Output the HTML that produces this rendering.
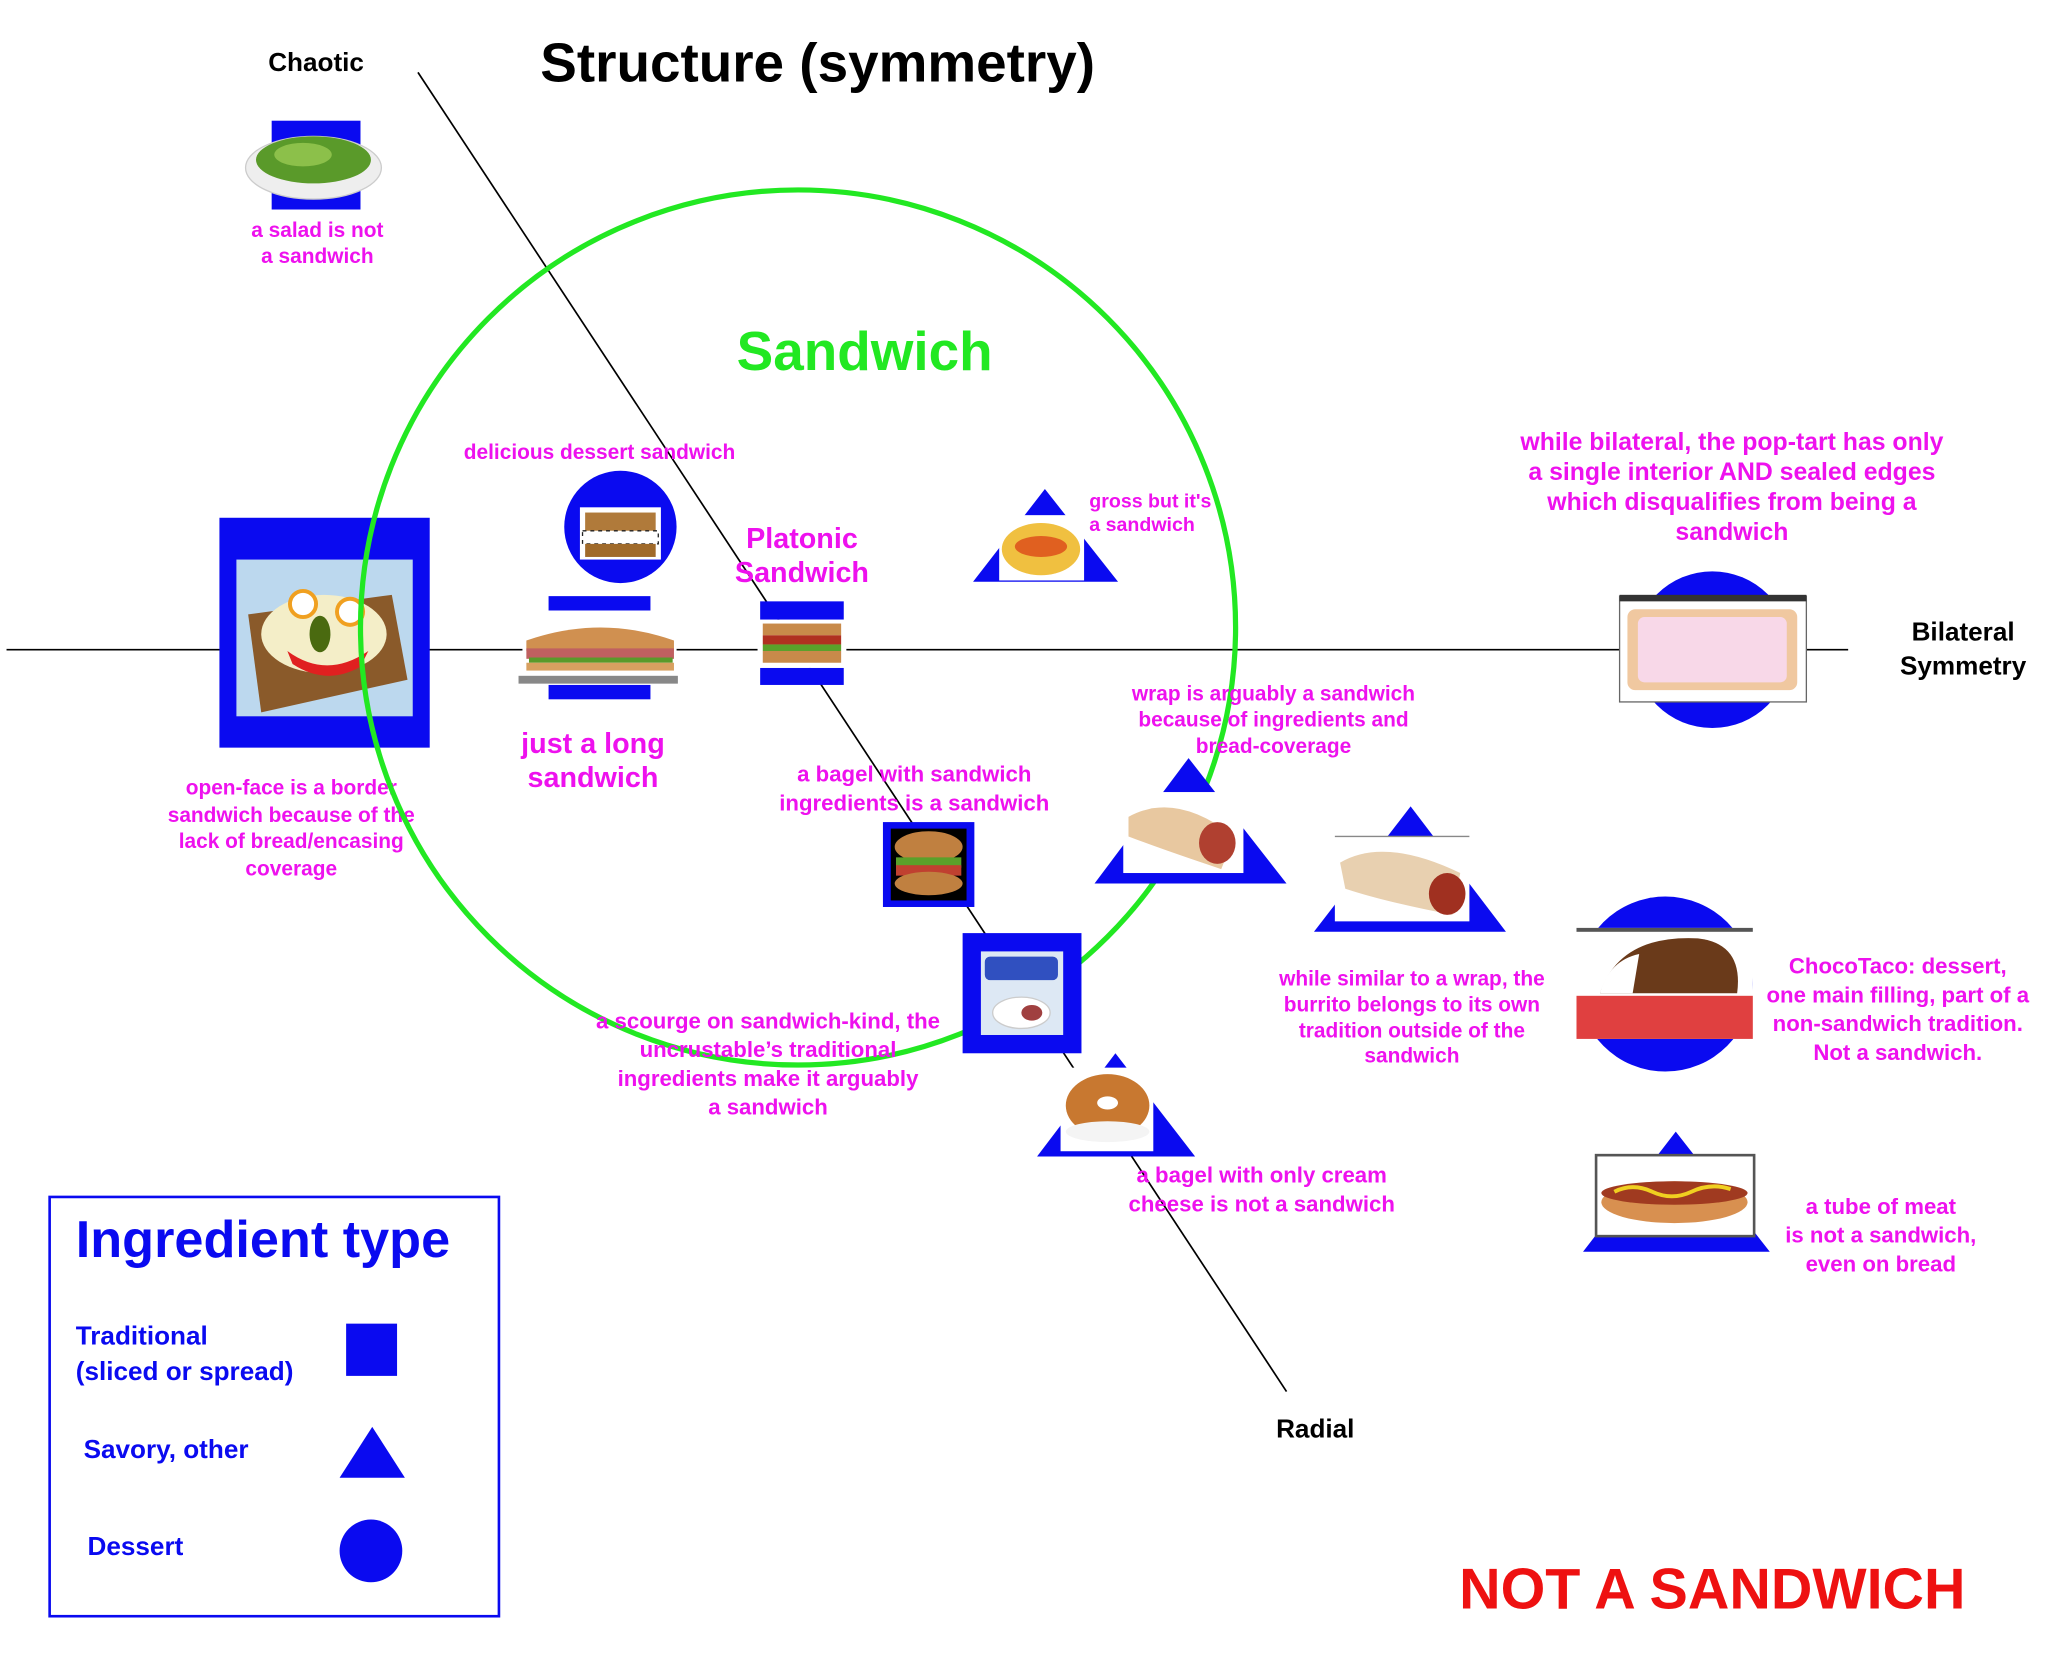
<!DOCTYPE html>
<html><head><meta charset="utf-8"><style>
html,body{margin:0;padding:0;background:#fff;}
svg{display:block;}
text{font-family:"Liberation Sans",Arial,sans-serif;font-weight:bold;}
.m{fill:#ee11ee;}
.b{fill:#0a0af0;}
</style></head><body>
<svg width="2048" height="1669" viewBox="0 0 1568 1277" xmlns="http://www.w3.org/2000/svg">
<rect width="1568" height="1277" fill="#fff"/>
<g font-size="16" text-anchor="middle">
<!-- axes -->
<line x1="5" y1="497" x2="1415" y2="497" stroke="#000" stroke-width="1.3"/>
<line x1="320" y1="55" x2="985" y2="1065" stroke="#000" stroke-width="1.3"/>

<text x="242" y="54" font-size="20" fill="#000">Chaotic</text>
<text x="626" y="62" font-size="42" fill="#000">Structure (symmetry)</text>
<text x="1503" y="490" font-size="20" fill="#000">Bilateral</text>
<text x="1503" y="516" font-size="20" fill="#000">Symmetry</text>
<text x="1007" y="1100" font-size="20" fill="#000">Radial</text>

<!-- salad -->
<rect x="208" y="92" width="68" height="68" class="b"/>
<ellipse cx="240" cy="128" rx="52" ry="24" fill="#eee" stroke="#ccc"/>
<ellipse cx="240" cy="122" rx="44" ry="18" fill="#5a9a2a"/>
<ellipse cx="232" cy="118" rx="22" ry="9" fill="#8cc04a"/>
<text class="m" x="243" y="181">a salad is not</text>
<text class="m" x="243" y="201">a sandwich</text>

<!-- open face -->
<rect x="168" y="396" width="161" height="176" class="b"/>
<rect x="181" y="428" width="135" height="120" fill="#bcd8ee"/>
<path d="M190 470 L300 455 L312 520 L200 545 Z" fill="#8a5a2a"/>
<ellipse cx="248" cy="485" rx="48" ry="30" fill="#f4eec8"/>
<circle cx="232" cy="462" r="10" fill="#fff" stroke="#f0a020" stroke-width="3"/>
<circle cx="268" cy="468" r="10" fill="#fff" stroke="#f0a020" stroke-width="3"/>
<path d="M220 498 Q250 520 282 498 L276 510 Q250 525 224 508Z" fill="#e02020"/>
<ellipse cx="245" cy="485" rx="8" ry="14" fill="#4a6a10"/>
<text class="m" x="223" y="608">open-face is a border</text>
<text class="m" x="223" y="629">sandwich because of the</text>
<text class="m" x="223" y="649">lack of bread/encasing</text>
<text class="m" x="223" y="670">coverage</text>

<!-- green circle -->
<circle cx="611" cy="480" r="335" fill="none" stroke="#22e822" stroke-width="4"/>
<text x="662" y="283" font-size="42" fill="#22e822">Sandwich</text>

<!-- dessert waffle -->
<circle cx="475" cy="403" r="43" class="b"/>
<rect x="444" y="388" width="62" height="40" fill="#fff"/>
<rect x="448" y="392" width="54" height="14" fill="#b07a3a"/>
<rect x="446" y="406" width="58" height="10" fill="#fff" stroke="#222" stroke-dasharray="3 3"/>
<rect x="448" y="416" width="54" height="10" fill="#a06a2a"/>
<text class="m" x="459" y="351">delicious dessert sandwich</text>

<!-- sub -->
<rect x="420" y="456" width="78" height="11" class="b"/>
<rect x="400" y="472" width="118" height="42" fill="#fff"/>
<path d="M403 490 Q460 470 516 490 L516 498 L403 498Z" fill="#d09050"/>
<rect x="403" y="496" width="113" height="8" fill="#c06060"/>
<rect x="405" y="503" width="110" height="4" fill="#5a9a2a"/>
<rect x="403" y="507" width="113" height="6" fill="#d8a060"/>
<rect x="397" y="517" width="122" height="6" fill="#888"/>
<rect x="420" y="524" width="78" height="11" class="b"/>
<text class="m" x="454" y="576" font-size="22">just a long</text>
<text class="m" x="454" y="602" font-size="22">sandwich</text>

<!-- platonic -->
<rect x="582" y="460" width="64" height="14" class="b"/>
<rect x="580" y="474" width="68" height="37" fill="#fff"/>
<rect x="584" y="477" width="60" height="9" fill="#c88a4a"/>
<rect x="584" y="486" width="60" height="7" fill="#b03020"/>
<rect x="584" y="493" width="60" height="5" fill="#5aa02a"/>
<rect x="584" y="498" width="60" height="9" fill="#c88a4a"/>
<rect x="582" y="511" width="64" height="13" class="b"/>
<text class="m" x="614" y="419" font-size="22">Platonic</text>
<text class="m" x="614" y="445" font-size="22">Sandwich</text>

<!-- gross -->
<polygon points="800,374 745,445 856,445" class="b"/>
<rect x="765" y="394" width="65" height="50" fill="#fff"/>
<ellipse cx="797" cy="420" rx="30" ry="20" fill="#f0c040"/>
<ellipse cx="797" cy="418" rx="20" ry="8" fill="#e06020"/>
<text class="m" x="834" y="388" font-size="15" text-anchor="start">gross but it's</text>
<text class="m" x="834" y="406" font-size="15" text-anchor="start">a sandwich</text>

<!-- pop-tart -->
<circle cx="1311" cy="497" r="60" class="b"/>
<rect x="1240" y="456" width="143" height="81" fill="#fff" stroke="#666" stroke-width="1"/>
<rect x="1240" y="455" width="143" height="5" fill="#333"/>
<rect x="1246" y="466" width="130" height="62" rx="6" fill="#f0c8a0"/>
<rect x="1254" y="472" width="114" height="50" rx="5" fill="#f8d8e8"/>
<text class="m" x="1326" y="344" font-size="19">while bilateral, the pop-tart has only</text>
<text class="m" x="1326" y="367" font-size="19">a single interior AND sealed edges</text>
<text class="m" x="1326" y="390" font-size="19">which disqualifies from being a</text>
<text class="m" x="1326" y="413" font-size="19">sandwich</text>

<!-- wrap -->
<polygon points="910,580 838,676 985,676" class="b"/>
<rect x="860" y="606" width="92" height="62" fill="#fff"/>
<path d="M864 625 Q900 605 945 640 L935 665 Q890 650 864 640Z" fill="#e8c8a0"/>
<ellipse cx="932" cy="645" rx="14" ry="16" fill="#b04030"/>
<text class="m" x="975" y="536">wrap is arguably a sandwich</text>
<text class="m" x="975" y="556">because of ingredients and</text>
<text class="m" x="975" y="576">bread-coverage</text>

<!-- bagel sandwich -->
<rect x="676" y="629" width="70" height="65" class="b"/>
<rect x="682" y="634" width="58" height="55" fill="#000"/>
<ellipse cx="711" cy="648" rx="26" ry="12" fill="#c08040"/>
<rect x="686" y="656" width="50" height="8" fill="#5aa02a"/>
<rect x="686" y="662" width="50" height="8" fill="#c04030"/>
<ellipse cx="711" cy="676" rx="26" ry="9" fill="#c08040"/>
<text class="m" x="700" y="598" font-size="17">a bagel with sandwich</text>
<text class="m" x="700" y="620" font-size="17">ingredients is a sandwich</text>

<!-- burrito -->
<polygon points="1080,617 1006,713 1153,713" class="b"/>
<rect x="1022" y="640" width="103" height="65" fill="#fff"/>
<path d="M1026 660 Q1060 640 1118 668 L1112 700 Q1060 690 1030 680Z" fill="#e8d0b0"/>
<ellipse cx="1108" cy="684" rx="14" ry="16" fill="#a03020"/>
<line x1="1022" y1="640" x2="1125" y2="640" stroke="#888"/>
<text class="m" x="1081" y="754">while similar to a wrap, the</text>
<text class="m" x="1081" y="774">burrito belongs to its own</text>
<text class="m" x="1081" y="794">tradition outside of the</text>
<text class="m" x="1081" y="813">sandwich</text>

<!-- uncrustable -->
<rect x="737" y="714" width="91" height="92" class="b"/>
<rect x="751" y="728" width="63" height="64" fill="#dde8f4"/>
<rect x="754" y="732" width="56" height="18" rx="4" fill="#3050c0"/>
<ellipse cx="782" cy="775" rx="22" ry="12" fill="#fff" stroke="#ccc"/>
<ellipse cx="790" cy="775" rx="8" ry="6" fill="#a04040"/>
<text class="m" x="588" y="787" font-size="17">a scourge on sandwich-kind, the</text>
<text class="m" x="588" y="809" font-size="17">uncrustable’s traditional</text>
<text class="m" x="588" y="831" font-size="17">ingredients make it arguably</text>
<text class="m" x="588" y="853" font-size="17">a sandwich</text>

<!-- bagel cream cheese -->
<polygon points="854,806 794,885 915,885" class="b"/>
<rect x="812" y="817" width="71" height="64" fill="#fff"/>
<ellipse cx="848" cy="846" rx="32" ry="24" fill="#c87830"/>
<ellipse cx="848" cy="844" rx="8" ry="5" fill="#fff"/>
<ellipse cx="848" cy="866" rx="32" ry="8" fill="#f4f4f4"/>
<text class="m" x="966" y="905" font-size="17">a bagel with only cream</text>
<text class="m" x="966" y="927" font-size="17">cheese is not a sandwich</text>

<!-- chocotaco -->
<circle cx="1275" cy="753" r="67" class="b"/>
<rect x="1207" y="710" width="135" height="85" fill="#fff"/>
<rect x="1207" y="710" width="135" height="3" fill="#555"/>
<rect x="1207" y="762" width="135" height="33" fill="#e04040"/>
<path d="M1225 760 Q1240 715 1300 718 Q1335 722 1330 760 Z" fill="#6a3a1a"/>
<path d="M1225 760 Q1232 735 1255 730 L1250 760Z" fill="#fff"/>
<text class="m" x="1453" y="745" font-size="17">ChocoTaco: dessert,</text>
<text class="m" x="1453" y="767" font-size="17">one main filling, part of a</text>
<text class="m" x="1453" y="789" font-size="17">non-sandwich tradition.</text>
<text class="m" x="1453" y="811" font-size="17">Not a sandwich.</text>

<!-- hot dog -->
<polygon points="1283,866 1212,958 1355,958" class="b"/>
<rect x="1222" y="884" width="121" height="62" fill="#fff" stroke="#555" stroke-width="2"/>
<ellipse cx="1282" cy="920" rx="56" ry="16" fill="#d89050"/>
<ellipse cx="1282" cy="913" rx="56" ry="9" fill="#a03a20"/>
<path d="M1236 912 Q1250 905 1265 912 T1295 912 T1325 910" stroke="#f0d020" stroke-width="3" fill="none"/>
<text class="m" x="1440" y="929" font-size="17">a tube of meat</text>
<text class="m" x="1440" y="951" font-size="17">is not a sandwich,</text>
<text class="m" x="1440" y="973" font-size="17">even on bread</text>

<!-- legend -->
<rect x="38" y="916" width="344" height="321" fill="none" stroke="#0a0af0" stroke-width="2"/>
<text x="58" y="962" font-size="40" class="b" text-anchor="start">Ingredient type</text>
<text x="58" y="1029" font-size="20" class="b" text-anchor="start">Traditional</text>
<text x="58" y="1056" font-size="20" class="b" text-anchor="start">(sliced or spread)</text>
<rect x="265" y="1013" width="39" height="40" class="b"/>
<text x="64" y="1116" font-size="20" class="b" text-anchor="start">Savory, other</text>
<polygon points="285,1092 260,1131 310,1131" class="b"/>
<text x="67" y="1190" font-size="20" class="b" text-anchor="start">Dessert</text>
<circle cx="284" cy="1187" r="24" class="b"/>

<text x="1311" y="1231" font-size="44" fill="#ee1111">NOT A SANDWICH</text>
</g>
</svg>
</body></html>
